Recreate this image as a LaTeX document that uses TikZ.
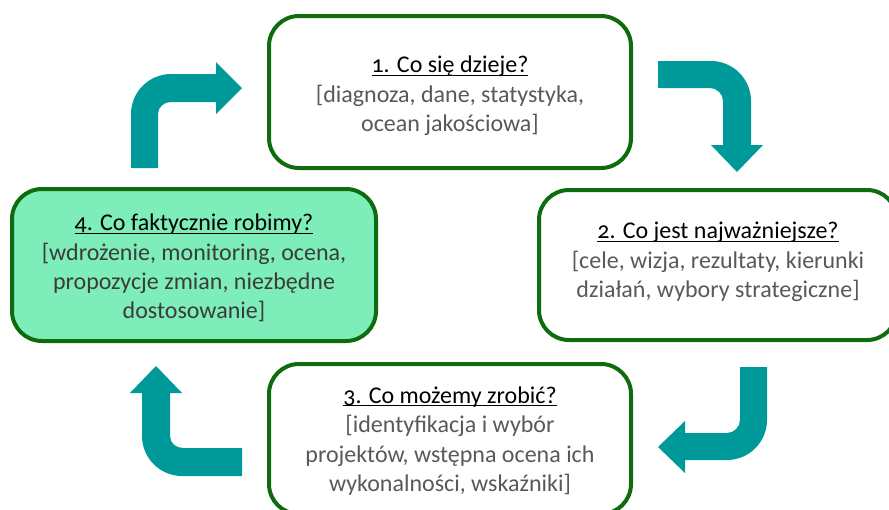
\documentclass[tikz,border=0pt]{standalone}
\usepackage{fontspec}
\setmainfont{Carlito}[Numbers=OldStyle]
\definecolor{boxgreen}{RGB}{14,108,14}
\definecolor{fillgreen}{RGB}{125,237,185}
\definecolor{teal}{RGB}{0,153,153}
\definecolor{bodygray}{RGB}{89,89,89}
\definecolor{bodydark}{RGB}{60,60,60}
\tikzset{
  stepbox/.style={draw=boxgreen, line width=4pt, rounded corners=30pt, fill=white},
  boxtext/.style={align=center, font=\fontsize{24}{29.3}\selectfont, text=bodygray, inner sep=0pt},
  bentarrow/.style={fill=teal, draw=none},
}
\newsavebox{\ttlbox}
\newcommand{\ttl}[1]{{\color{black}\sbox{\ttlbox}{#1}\rlap{\rule[-3pt]{\wd\ttlbox}{1.1pt}}\usebox{\ttlbox}}}
\begin{document}
\begin{tikzpicture}[x=1pt,y=-1pt]
\useasboundingbox (0,0) rectangle (889,509);
\begin{scope}
\clip (0,0) rectangle (889,509);
% boxes
\draw[stepbox] (269,16) rectangle (631,168);
\draw[stepbox] (539,190) rectangle (897,340);
\draw[stepbox] (269,364) rectangle (631,514);
\draw[stepbox, fill=fillgreen] (12,189) rectangle (376,341);
\end{scope}
% texts
\node[boxtext] (t1) at (450,96) {\ttl{1. Co się dzieje?}\\ {[}diagnoza, dane, statystyka,\\ ocean jakościowa]};
\node[boxtext] (t2) at (718,262) {\ttl{2. Co jest najważniejsze?}\\ {[}cele, wizja, rezultaty, kierunki\\ działań, wybory strategiczne]};
\node[boxtext] (t3) at (450,441) {\ttl{3. Co możemy zrobić?}\\ {[}identyfikacja i wybór\\ projektów, wstępna ocena ich\\ wykonalności, wskaźniki]};
\node[boxtext, text=bodydark] (t4) at (194,268) {\ttl{4. Co faktycznie robimy?}\\ {[}wdrożenie, monitoring, ocena,\\ propozycje zmian, niezbędne\\ dostosowanie]};
% arrows
\fill[bentarrow] (131,168) -- (131,114) .. controls (131,92) and (149,74) .. (171,74) -- (216,74) -- (216,62) -- (242,88) -- (216,114) -- (216,102) -- (171,102) .. controls (164,102) and (158,107) .. (158,114) -- (158,168) -- cycle;
\fill[bentarrow] (658,61) -- (711,61) .. controls (733,61) and (751,79) .. (751,101) -- (751,145) -- (763,145) -- (737,172) -- (711,145) -- (723,145) -- (723,101) .. controls (723,94) and (717,88) .. (710,88) -- (658,88) -- cycle;
\fill[bentarrow] (740,367) -- (767,367) -- (767,420) .. controls (767,442) and (749,460) .. (727,460) -- (685,460) -- (685,473) -- (658,447) -- (685,421) -- (685,433) -- (727,433) .. controls (734,433) and (740,427) .. (740,420) -- cycle;
\fill[bentarrow] (242,448) -- (242,476) -- (182,476) .. controls (160,476) and (142,458) .. (142,436) -- (142,393) -- (130,393) -- (156,366) -- (182,393) -- (170,393) -- (170,436) .. controls (170,443) and (176,448) .. (183,448) -- cycle;
\end{tikzpicture}
\end{document}
